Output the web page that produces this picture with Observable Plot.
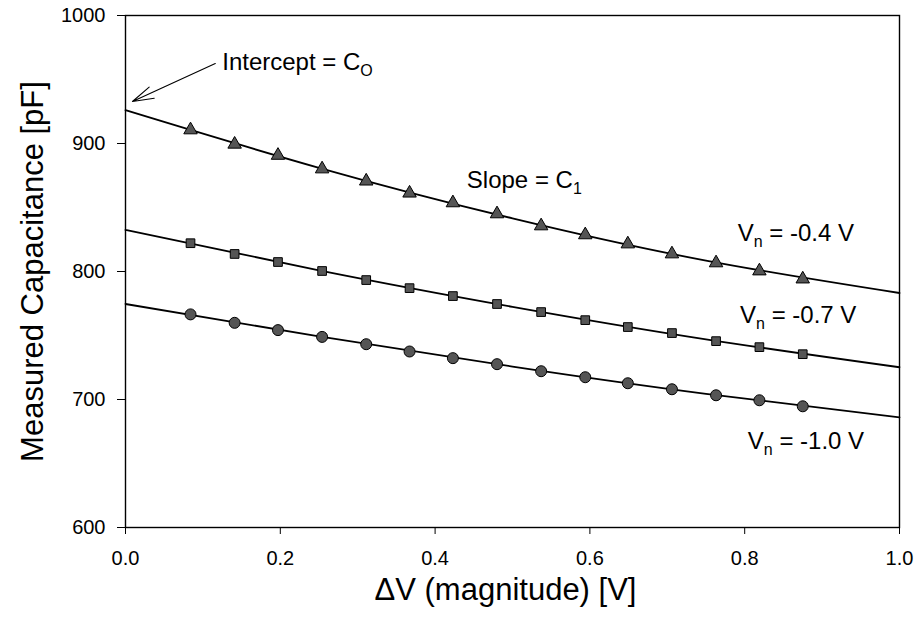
<!DOCTYPE html>
<html>
<head>
<meta charset="utf-8">
<script src="https://cdn.jsdelivr.net/npm/d3@7"></script>
<script src="https://cdn.jsdelivr.net/npm/@observablehq/plot@0.6"></script>
<style>
  html, body { margin: 0; padding: 0; background: white; }
</style>
</head>
<body>
<div id="chart"></div>
<script>
// ---- data ----
const deltaV = [0.084, 0.141, 0.197, 0.254, 0.311, 0.367, 0.423, 0.480, 0.537, 0.594, 0.649, 0.706, 0.763, 0.819, 0.875];
const capVn04 = [910.6, 899.4, 890.7, 880.1, 870.6, 861.2, 853.6, 845.0, 835.6, 828.6, 821.5, 813.7, 806.7, 800.4, 794.1];
const capVn07 = [822.1, 813.7, 807.4, 800.4, 793.3, 787.0, 780.8, 774.6, 768.3, 762.0, 756.6, 751.9, 745.6, 740.9, 735.4];
const capVn10 = [766.5, 759.9, 754.2, 748.9, 743.2, 737.5, 732.3, 727.6, 722.1, 717.4, 712.7, 708.0, 703.3, 699.4, 694.7];

// fitted curves (read at a few x positions)
const fitX = [0, 0.25, 0.5, 0.75, 1.0];
const fitVn04 = [926.0, 881.0, 841.5, 808.5, 783.2];
const fitVn07 = [832.5, 800.9, 772.4, 747.0, 725.2];
const fitVn10 = [774.6, 749.3, 725.7, 704.4, 686.1];

const xTicks = [0, 0.2, 0.4, 0.6, 0.8, 1.0];
const yTicks = [600, 700, 800, 900, 1000];

const xTitle = "ΔV (magnitude) [V]";
const yTitle = "Measured Capacitance [pF]";

const annoText = ["Intercept = C_O", "Slope = C_1", "V_n = -0.4 V", "V_n = -0.7 V", "V_n = -1.0 V"];
const annoX = [0.125, 0.441, 0.791, 0.794, 0.804];
const annoY = [957.8, 865.4, 824.2, 759.9, 661.5];

const arrowFrom = {x: 0.116, y: 962.5};
const arrowTo = {x: 0.009, y: 932.8};

// ---- build tables ----
const rows = (ys) => deltaV.map((x, i) => ({x, y: ys[i]}));
const fits = [];
[["-0.4", fitVn04], ["-0.7", fitVn07], ["-1.0", fitVn10]].forEach(([s, ys]) =>
  fitX.forEach((x, i) => fits.push({series: s, x, y: ys[i]})));
const annos = annoText.map((t, i) => ({t, x: annoX[i], y: annoY[i]}));

const markFill = "#555555";

const chart = Plot.plot({
  width: 917,
  height: 623,
  marginLeft: 125,
  marginRight: 18,
  marginTop: 15,
  marginBottom: 96,
  style: {fontFamily: "'Liberation Sans', Arial, Helvetica, sans-serif", fontSize: "20px", background: "white", color: "black", overflow: "visible"},
  x: {domain: [0, 1], ticks: xTicks, tickFormat: d => d.toFixed(1), tickSize: 7, tickPadding: 16, label: null},
  y: {domain: [600, 1000], ticks: yTicks, tickFormat: d => String(d), tickSize: 8, tickPadding: 12, label: null},
  marks: [
    Plot.frame({stroke: "black", strokeWidth: 1.4}),
    Plot.line(fits, {x: "x", y: "y", z: "series", curve: "natural", stroke: "black", strokeWidth: 1.8}),
    Plot.dot(rows(capVn04), {x: "x", y: "y", symbol: "triangle", r: 5, fill: markFill, stroke: "black", strokeWidth: 1}),
    Plot.dot(rows(capVn07), {x: "x", y: "y", symbol: "square", r: 4.9, fill: markFill, stroke: "black", strokeWidth: 1}),
    Plot.dot(rows(capVn10), {x: "x", y: "y", symbol: "circle", r: 5.5, fill: markFill, stroke: "black", strokeWidth: 1}),
    Plot.arrow([{}], {x1: () => arrowFrom.x, y1: () => arrowFrom.y, x2: () => arrowTo.x, y2: () => arrowTo.y,
      stroke: "black", strokeWidth: 1.1, headLength: 30, headAngle: 32}),
    Plot.text(annos, {x: "x", y: "y", text: "t", textAnchor: "start", lineAnchor: "bottom", fontSize: 24, fill: "black"}),
    Plot.text([xTitle], {frameAnchor: "bottom", lineAnchor: "middle", textAnchor: "middle", dx: -7, dy: 63, fontSize: 31, fill: "black"}),
    Plot.text([yTitle], {frameAnchor: "left", lineAnchor: "middle", textAnchor: "middle", rotate: -90, dx: -92, fontSize: 31, fill: "black"})
  ]
});

// tick label size
d3.select(chart).selectAll('g[aria-label^="x-axis"], g[aria-label^="y-axis"]').attr("font-size", 20)
  .selectAll("text").attr("font-size", 20);

// subscripts
d3.select(chart).selectAll("text").each(function() {
  const txt = this.textContent;
  const m = /^(.*?)_(\w)(.*)$/.exec(txt);
  if (!m) return;
  const el = d3.select(this);
  el.text(null);
  el.append("tspan").text(m[1]);
  el.append("tspan").attr("dy", "6").attr("font-size", "16").text(m[2]);
  el.append("tspan").attr("dy", "-6").text(m[3]);
});

document.getElementById("chart").appendChild(chart);
</script>
</body>
</html>
